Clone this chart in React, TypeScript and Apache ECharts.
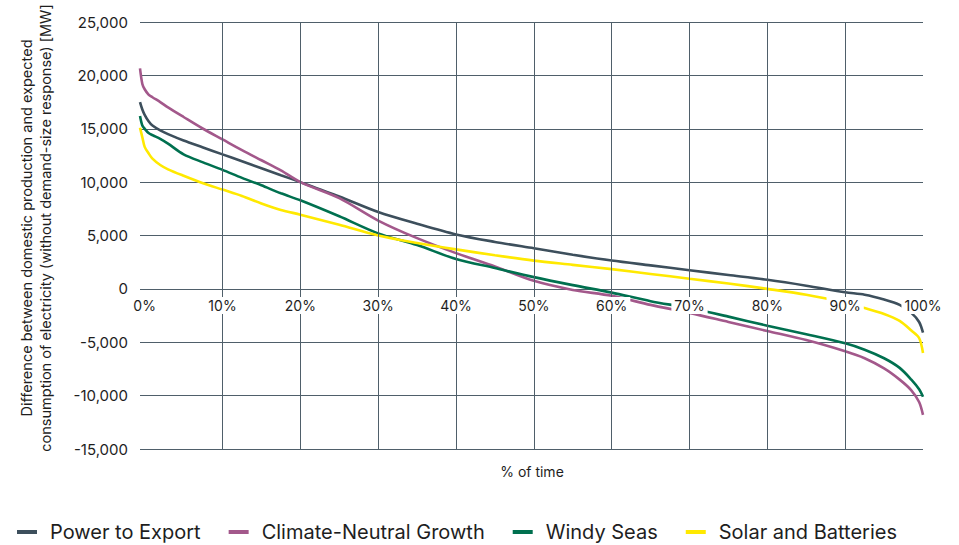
import React, { useEffect, useRef } from "react";
import * as echarts from "echarts";

// % of time (x positions of the duration curves)
const xPct = [-0.6, -0.3, 0, 0.5, 1, 2, 3, 5, 7.5, 10, 12.5, 15, 17.5, 20, 25, 30, 35, 40, 45, 50, 55, 60, 65, 70, 75, 80, 85, 90, 92.5, 95, 97, 98.5, 99.5, 100];

const powerToExport = [17500, 16800, 16300, 15700, 15300, 14850, 14500, 13900, 13250, 12600, 11950, 11300, 10650, 10000, 8650, 7200, 6100, 5100, 4400, 3800, 3200, 2650, 2200, 1750, 1300, 850, 300, -320, -550, -1000, -1500, -2250, -3100, -4100];
const climateNeutralGrowth = [20650, 19200, 18700, 18200, 17950, 17500, 17000, 16100, 15000, 14000, 13000, 12050, 11100, 10000, 8500, 6400, 4750, 3350, 2100, 750, -100, -650, -1500, -2250, -3100, -3950, -4800, -5850, -6500, -7450, -8500, -9500, -10600, -11800];
const windySeas = [16200, 15300, 15000, 14600, 14400, 14050, 13600, 12600, 11850, 11150, 10400, 9700, 8950, 8300, 6800, 5200, 4100, 2800, 1950, 1100, 350, -350, -1150, -1800, -2600, -3450, -4250, -5100, -5700, -6500, -7400, -8500, -9400, -10100];
const solarAndBatteries = [15100, 14200, 13300, 12700, 12200, 11600, 11200, 10600, 9900, 9300, 8700, 8000, 7400, 6950, 6000, 5000, 4300, 3700, 3150, 2650, 2250, 1850, 1400, 950, 500, 0, -550, -1300, -1800, -2350, -3000, -3900, -4600, -6000];

const seriesNames = ["Power to Export", "Climate-Neutral Growth", "Windy Seas", "Solar and Batteries"];
const seriesColors = ["#3d4f5c", "#a3588b", "#00704f", "#ffe900"];

const xLabelTicks = [0, 10, 20, 30, 40, 50, 60, 70, 80, 90, 100];
const xGridTicks = [10, 20, 30, 40, 50, 60, 70, 80, 90];
const yMin = -15000;
const yMax = 25000;
const yStep = 5000;

const yAxisTitle = "Difference between domestic production and expected\nconsumption of electricity (without demand-size response) [MW]";
const xAxisTitle = "% of time";

const GRID = "#4f5f6a";
const TEXT = "#1e1e1e";
const FONT = "Inter, 'Noto Sans', sans-serif";

const GRID_TOP = 22;
const GRID_BOTTOM = 96;
const HEIGHT = 545;

export default function App() {
  const ref = useRef<HTMLDivElement>(null);
  useEffect(() => {
    document.body.style.margin = "0";
    if (!ref.current) return;
    const chart = echarts.init(ref.current, null, { renderer: "svg" });
    const values = [powerToExport, climateNeutralGrowth, windySeas, solarAndBatteries];
    const plotH = HEIGHT - GRID_TOP - GRID_BOTTOM;
    const zeroOffset = -((0 - yMin) / (yMax - yMin)) * plotH;
    const lineSeries = values.map((arr, k) => ({
      name: seriesNames[k],
      type: "line",
      data: xPct.map((x, i) => [x, arr[i]]),
      showSymbol: false,
      smooth: 0.3,
      lineStyle: { color: seriesColors[k], width: 2.6 },
      itemStyle: { color: seriesColors[k] },
      z: 3,
    }));
    chart.setOption({
      animation: false,
      textStyle: { fontFamily: FONT },
      grid: { left: 140, right: 36, top: GRID_TOP, bottom: GRID_BOTTOM, containLabel: false },
      xAxis: {
        type: "value",
        min: -0.6,
        max: 100,
        position: "bottom",
        offset: zeroOffset,
        splitLine: { show: false },
        axisTick: { show: false },
        axisLine: { show: false, onZero: false },
        axisLabel: {
          customValues: xLabelTicks,
          formatter: (v: number) => `${Math.round(v)}%`,
          margin: 8,
          backgroundColor: "#ffffff",
          padding: [2, 3, 1, 3],
          fontSize: 14,
          color: TEXT,
          fontFamily: FONT,
        },
        z: 5,
      },
      yAxis: {
        type: "value",
        min: yMin,
        max: yMax,
        interval: yStep,
        axisLine: { show: false },
        axisTick: { show: false },
        splitLine: { show: true, lineStyle: { color: GRID, width: 1 } },
        axisLabel: {
          margin: 12,
          fontSize: 15,
          color: TEXT,
          fontFamily: FONT,
          formatter: (v: number) => v.toLocaleString("en-US"),
        },
      },
      legend: {
        data: seriesNames,
        left: 12,
        top: 517,
        icon: "rect",
        itemWidth: 20,
        itemHeight: 4,
        itemGap: 28,
        textStyle: { fontSize: 20, color: TEXT, fontFamily: FONT, padding: [0, 0, 0, 8] },
      },
      graphic: [
        {
          type: "text",
          x: 36,
          y: 228,
          rotation: Math.PI / 2,
          style: {
            text: yAxisTitle,
            textAlign: "center",
            textVerticalAlign: "middle",
            fontSize: 14.5,
            lineHeight: 19,
            fill: TEXT,
            fontFamily: FONT,
          },
        },
        {
          type: "text",
          x: 532,
          y: 471,
          style: {
            text: xAxisTitle,
            textAlign: "center",
            textVerticalAlign: "middle",
            fontSize: 14,
            fill: TEXT,
            fontFamily: FONT,
          },
        },
      ],
      series: [
        {
          name: "gridlines",
          type: "line",
          data: [],
          z: 1,
          silent: true,
          markLine: {
            silent: true,
            symbol: "none",
            label: { show: false },
            lineStyle: { color: GRID, width: 1, type: "solid" },
            emphasis: { disabled: true },
            data: xGridTicks.map((v) => ({ xAxis: v })),
          },
        },
        ...lineSeries,
      ],
    });
    return () => chart.dispose();
  }, []);
  return <div ref={ref} style={{ width: 959, height: 545 }} />;
}
